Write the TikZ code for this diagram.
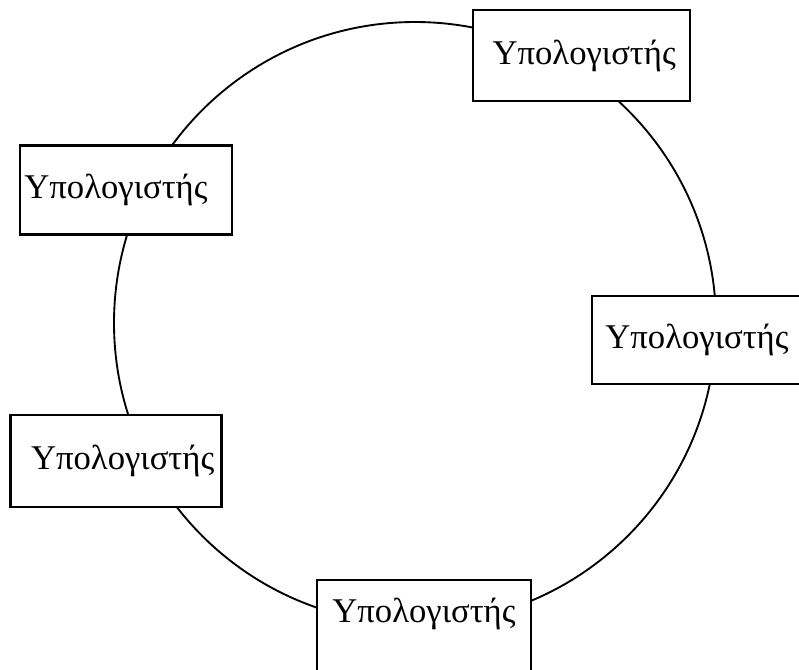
\documentclass[tikz,border=0pt]{standalone}
\usepackage{fontspec}
\setmainfont{Liberation Serif}
\begin{document}
\begin{tikzpicture}[x=0.75pt,y=-0.75pt,
  pc/.style={draw=black, fill=white, line width=1.7pt, rectangle, inner sep=0pt,
    font=\fontsize{26}{30}\selectfont},
  ring/.style={draw=black, line width=1.4pt}]
\useasboundingbox (0,0) rectangle (799,669);
\draw[ring] (415,323) circle[radius=301*0.75pt];
\node[pc, minimum width=217*0.75pt, minimum height=91*0.75pt] (tr) at (581.5,55.5) {\hspace*{4pt}Υπολογιστής};
\node[pc, minimum width=212*0.75pt, minimum height=89*0.75pt] (tl) at (126,190) {Υπολογιστής\hspace*{15pt}};
\node[pc, minimum width=210*0.75pt, minimum height=88*0.75pt] (r) at (697,340) {Υπολογιστής};
\node[pc, minimum width=211*0.75pt, minimum height=92*0.75pt] (bl) at (116,461) {\hspace*{10pt}Υπολογιστής};
\node[pc, minimum width=214*0.75pt, minimum height=92*0.75pt, text depth=24pt] (b) at (424,626) {Υπολογιστής};
\end{tikzpicture}
\end{document}
